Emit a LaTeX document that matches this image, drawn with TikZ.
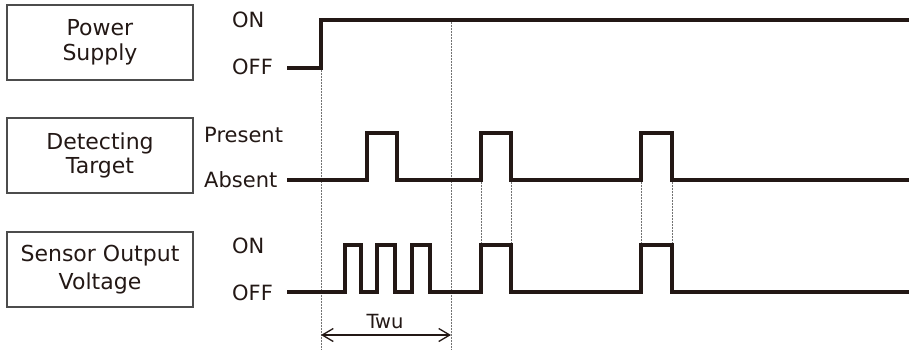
\documentclass[tikz,border=0pt]{standalone}
\usepackage{fontspec}
\setmainfont{DejaVu Sans}
\usetikzlibrary{arrows.meta,positioning}
\definecolor{ink}{HTML}{231815}

\begin{document}
\begin{tikzpicture}[x=1pt,y=-1pt,
	namebox/.style={draw=black!70, line width=1.2pt, minimum width=186pt, minimum height=75pt, align=center, inner sep=0pt, text=ink, font=\fontsize{22}{24.5}\selectfont},
	level/.style={anchor=base west, inner sep=0pt, text=ink, font=\fontsize{21}{24}\selectfont},
	signal/.style={draw=ink, line width=3.2pt, line join=miter},
	guide/.style={draw=black!55, line width=0.5pt, densely dotted}]
	\useasboundingbox (0,0) rectangle (909,349);

	\node[namebox] (power) at (100,42.5) {Power\\Supply};
	\node[namebox] (target) at (100,155.5) {Detecting\\Target};
	\node[namebox, font=\fontsize{22}{28}\selectfont] (output) at (100,269.5) {Sensor Output\\Voltage};

	\node[level] (powerOn) at (232,27) {ON};
	\node[level] (powerOff) at (232,74) {OFF};
	\node[level] (present) at (204,142) {Present};
	\node[level] (absent) at (204,187) {Absent};
	\node[level] (outOn) at (232,253) {ON};
	\node[level] (outOff) at (232,300) {OFF};

	% guide lines
	\draw[guide] (321,68) -- (321,349);
	\draw[guide] (451,20) -- (451,349);
	\foreach \x in {481,511,641,672}
		\draw[guide] (\x,180) -- (\x,245);

	% signals
	\draw[signal] (287,68) -- (321,68) -- (321,20) -- (909,20);
	\draw[signal] (287,180) foreach \a/\b in {367/397,481/511,641/672}
		{ -- (\a,180) -- (\a,133) -- (\b,133) -- (\b,180) } -- (909,180);
	\draw[signal] (287,292) foreach \a/\b in {345/361,377/395,412/430,481/511,641/672}
		{ -- (\a,292) -- (\a,245) -- (\b,245) -- (\b,292) } -- (909,292);

	% warm-up time
	\coordinate (wuStart) at (321,335);
	\coordinate (wuEnd) at (451,335);
	\draw[{Straight Barb[length=11pt,width=13pt]}-{Straight Barb[length=11pt,width=13pt]}, line width=1.3pt, ink] (wuStart) -- (wuEnd);
	\node[level, anchor=base, font=\fontsize{19.5}{22}\selectfont] (twu) at (385,328) {Twu};
\end{tikzpicture}
\end{document}
